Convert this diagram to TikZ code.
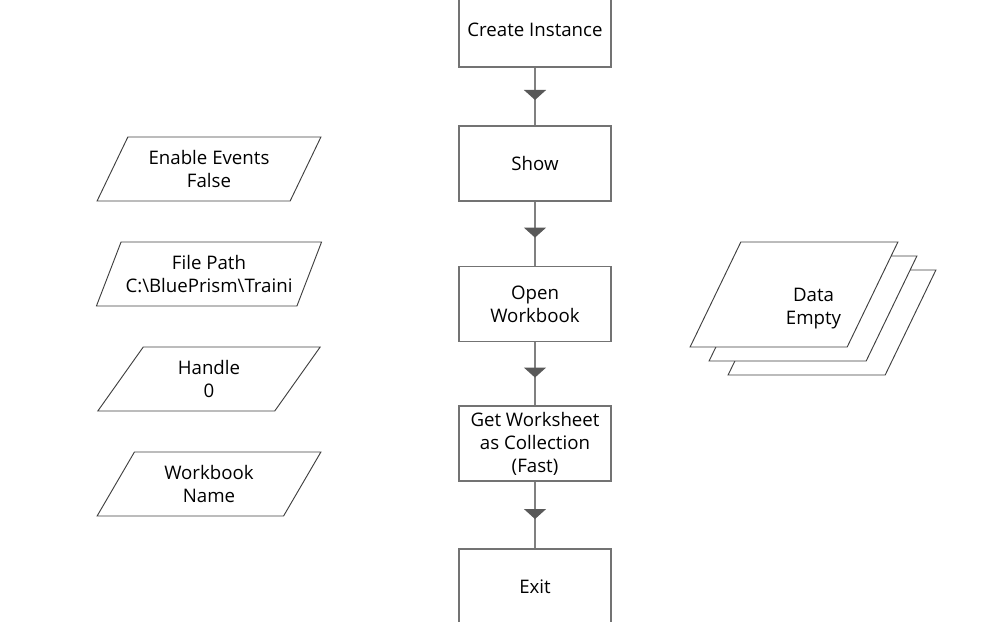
\documentclass[tikz,border=0pt]{standalone}
\usepackage{fontspec}
\setmainfont{Open Sans}
\usetikzlibrary{shapes.geometric,arrows.meta,decorations.markings}

\begin{document}
\begin{tikzpicture}[x=0.75pt, y=-0.75pt,
    every node/.style={font=\fontsize{14pt}{17.25pt}\selectfont, align=center},
    stage/.style={draw=black!55, line width=0.8pt, fill=white,
      minimum width=114pt, minimum height=56.25pt},
    datain/.style={draw=black!75, line width=0.7pt, trapezium,
      trapezium left angle=62, trapezium right angle=118,
      trapezium stretches=true, minimum width=168pt, minimum height=48pt},
    sheet/.style={draw=black!75, line width=0.7pt, fill=white, trapezium,
      trapezium left angle=64.5, trapezium right angle=115.5,
      trapezium stretches=true, minimum width=156pt, minimum height=78.75pt},
    flow/.style={draw=black!50, line width=0.9pt, postaction={decorate},
      decoration={markings, mark=at position 0.56 with
        {\arrow[black!65]{Triangle[width=16.5pt, length=7.5pt]}}}}]
  \useasboundingbox (0,0) rectangle (999,621);
  \clip (0,0) rectangle (999,621);

  % Stages
  \node[stage] (create) at (535, 29.5) {Create Instance};
  \node[stage] (show) at (535, 163.5) {Show};
  \node[stage] (open) at (535, 304) {Open\\Workbook};
  \node[stage] (getws) at (535, 443.5) {Get Worksheet\\as Collection\\(Fast)};
  \node[stage] (exit) at (535, 586.5) {Exit};

  % Arrows
  \draw[flow] (create) -- (show);
  \draw[flow] (show) -- (open);
  \draw[flow] (open) -- (getws);
  \draw[flow] (getws) -- (exit);

  % Inputs
  \node[datain] (events) at (209, 169) {Enable Events\\False};
  \node[datain] (path) at (209, 274) {File Path\\C:\textbackslash BluePrism\textbackslash Traini};
  \node[datain] (handle) at (209, 379) {Handle\\0};
  \node[datain] (wbname) at (209, 484) {Workbook\\Name};

  % Collection
  \node[sheet] (sheet3) at (832, 322.5) {};
  \node[sheet] (sheet2) at (813, 308.5) {};
  \node[sheet] (sheet1) at (794, 294.5) {};
  \node (data) at (813.5, 309) {Data\\Empty};
\end{tikzpicture}
\end{document}
